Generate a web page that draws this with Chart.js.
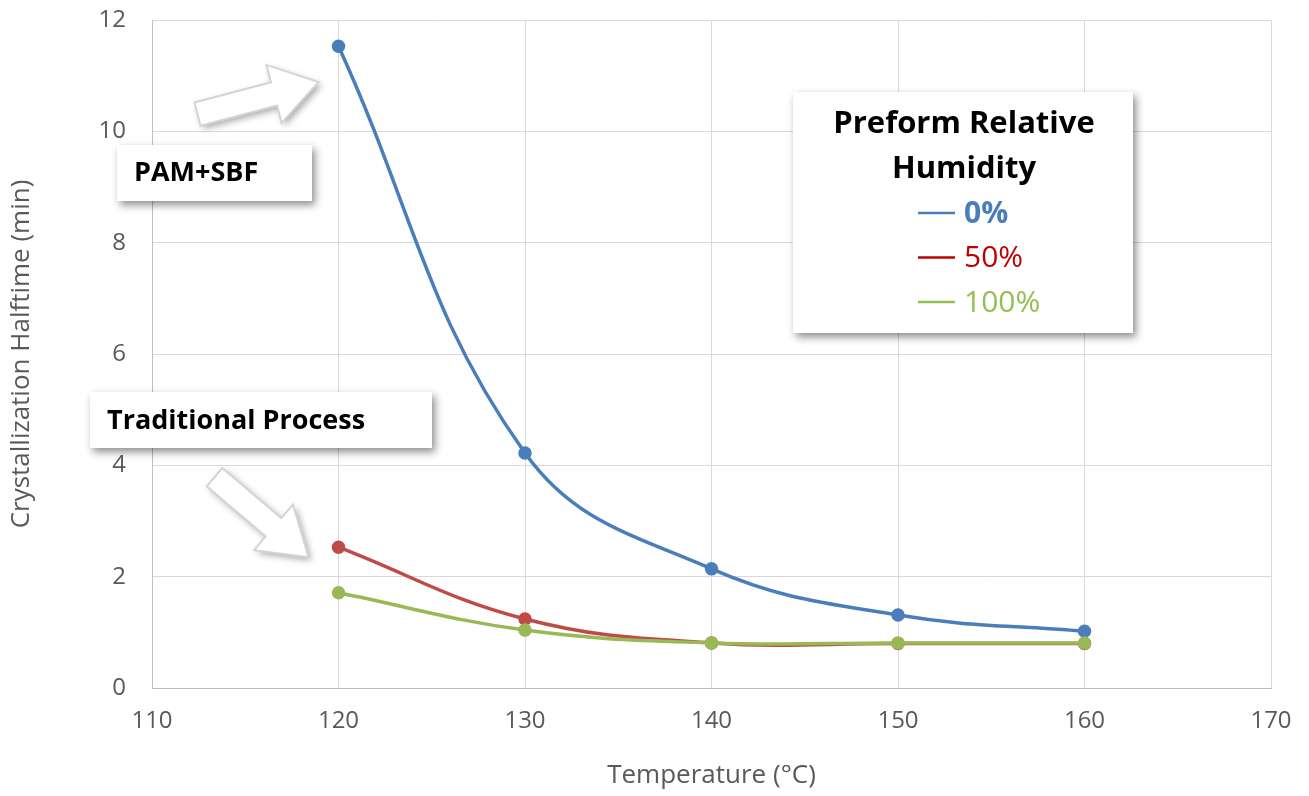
<!DOCTYPE html>
<html>
<head>
<meta charset="utf-8">
<script src="https://cdn.jsdelivr.net/npm/chart.js@4/dist/chart.umd.min.js"></script>
<style>
  html, body { margin: 0; padding: 0; background: #fff; }
  #wrap { width: 1309px; height: 796px; }
</style>
</head>
<body>
<div id="wrap"><canvas id="halftimeChart" width="1309" height="796"></canvas></div>
<script>
const temperatures = [120, 130, 140, 150, 160]
const halftimeRH0 = [11.53, 4.22, 2.14, 1.31, 1.02]
const halftimeRH50 = [2.53, 1.24, 0.81, 0.80, 0.80]
const halftimeRH100 = [1.71, 1.04, 0.81, 0.81, 0.81]
const humidityLabels = ["0%", "50%", "100%"]
const xTicks = [110, 120, 130, 140, 150, 160, 170]
const yTicks = [0, 2, 4, 6, 8, 10, 12]

const lineColors = ["#4a7ebb", "#be4b48", "#98b954"]
const legendTextColors = ["#4a7ebb", "#c00000", "#92c050"]
const font = "'Open Sans', 'DejaVu Sans', sans-serif"

const toPoints = (values) => temperatures.map((t, i) => ({x: t, y: values[i]}))

const makeDataset = (label, values, idx) => {
    return {
        label: label,
        data: toPoints(values),
        borderColor: lineColors[idx],
        backgroundColor: lineColors[idx],
        borderWidth: 3.5,
        pointRadius: 5,
        pointHoverRadius: 5,
        showLine: true,
        tension: 0.4,
        order: 2 - idx
    }
}

// white box with a soft drop shadow
function shadowBox(ctx, x, y, w, h) {
    ctx.save()
    ctx.shadowColor = "rgba(0,0,0,0.45)"
    ctx.shadowBlur = 8
    ctx.shadowOffsetX = 3
    ctx.shadowOffsetY = 4
    ctx.fillStyle = "#fff"
    ctx.fillRect(x, y, w, h)
    ctx.restore()
}

// outlined block arrow from (x0,y0) to tip (x1,y1)
function blockArrow(ctx, x0, y0, x1, y1, shaftW, headW, headLen) {
    const ang = Math.atan2(y1 - y0, x1 - x0)
    const len = Math.hypot(x1 - x0, y1 - y0)
    ctx.save()
    ctx.translate(x0, y0)
    ctx.rotate(ang)
    ctx.beginPath()
    ctx.moveTo(0, -shaftW / 2)
    ctx.lineTo(len - headLen, -shaftW / 2)
    ctx.lineTo(len - headLen, -headW / 2)
    ctx.lineTo(len, 0)
    ctx.lineTo(len - headLen, headW / 2)
    ctx.lineTo(len - headLen, shaftW / 2)
    ctx.lineTo(0, shaftW / 2)
    ctx.closePath()
    ctx.shadowColor = "rgba(0,0,0,0.35)"
    ctx.shadowBlur = 7
    ctx.shadowOffsetX = 3
    ctx.shadowOffsetY = 3
    ctx.fillStyle = "#fff"
    ctx.fill()
    ctx.shadowColor = "transparent"
    ctx.lineWidth = 2
    ctx.strokeStyle = "#d4d4d4"
    ctx.stroke()
    ctx.restore()
}

const annotations = {
    id: "annotations",
    afterDraw(chart) {
        const ctx = chart.ctx
        const xs = chart.scales.x
        const ys = chart.scales.y

        // arrow toward the first 0% point
        const p0x = xs.getPixelForValue(temperatures[0])
        const p0y = ys.getPixelForValue(halftimeRH0[0])
        blockArrow(ctx, p0x - 141, p0y + 68, p0x - 20, p0y + 36, 24, 60, 46)

        // arrow toward the first 50% point
        const p1y = ys.getPixelForValue(halftimeRH50[0])
        blockArrow(ctx, p0x - 124, p1y - 70, p0x - 30, p1y + 10, 24, 60, 46)

        ctx.save()
        shadowBox(ctx, 117, 145, 195, 56)
        shadowBox(ctx, 90, 392, 342, 56)
        ctx.fillStyle = "#000"
        ctx.font = "bold 27px " + font
        ctx.textBaseline = "middle"
        ctx.fillText("PAM+SBF", 134, 173)
        ctx.fillText("Traditional Process", 107, 421)

        // legend panel
        shadowBox(ctx, 793, 92, 340, 241)
        ctx.textAlign = "center"
        ctx.font = "bold 31px " + font
        ctx.fillText("Preform Relative", 964, 124)
        ctx.fillText("Humidity", 964, 169)
        ctx.textAlign = "left"
        humidityLabels.forEach((label, i) => {
            const y = 213 + i * 44.5
            ctx.strokeStyle = legendTextColors[i]
            ctx.lineWidth = 2.5
            ctx.beginPath()
            ctx.moveTo(918, y)
            ctx.lineTo(955, y)
            ctx.stroke()
            ctx.fillStyle = legendTextColors[i]
            ctx.font = (i === 0 ? "bold " : "") + "30px " + font
            ctx.fillText(label, 964, y + 1)
        })
        ctx.restore()
    }
}

const chart = new Chart(document.getElementById("halftimeChart").getContext("2d"), {
    type: "scatter",
    data: {
        datasets: [
            makeDataset(humidityLabels[0], halftimeRH0, 0),
            makeDataset(humidityLabels[1], halftimeRH50, 1),
            makeDataset(humidityLabels[2], halftimeRH100, 2)
        ]
    },
    options: {
        responsive: false,
        animation: false,
        layout: {
            padding: {left: 0, right: 38, top: 0, bottom: 0}
        },
        plugins: {
            legend: {display: false},
            tooltip: {enabled: false}
        },
        scales: {
            x: {
                type: "linear",
                min: xTicks[0],
                max: xTicks[xTicks.length - 1],
                afterBuildTicks: (scale) => {
                    scale.ticks = xTicks.map(v => ({value: v}))
                },
                afterFit: (scale) => {
                    scale.height = 108
                    scale.paddingLeft = 0
                    scale.paddingRight = 0
                },
                grid: {color: "#d9d9d9", lineWidth: 1, drawTicks: false},
                border: {color: "#bfbfbf"},
                ticks: {
                    color: "#595959",
                    font: {family: font, size: 24},
                    padding: 19
                },
                title: {
                    display: true,
                    text: "Temperature (°C)",
                    color: "#595959",
                    font: {family: font, size: 26},
                    padding: {top: 0, bottom: 5}
                }
            },
            y: {
                min: yTicks[0],
                max: yTicks[yTicks.length - 1],
                afterBuildTicks: (scale) => {
                    scale.ticks = yTicks.map(v => ({value: v}))
                },
                afterFit: (scale) => {
                    scale.width = 152
                    scale.paddingTop = 20
                    scale.paddingBottom = 0
                },
                grid: {color: "#d9d9d9", lineWidth: 1, drawTicks: false},
                border: {color: "#bfbfbf"},
                ticks: {
                    color: "#595959",
                    font: {family: font, size: 24},
                    padding: 26
                },
                title: {
                    display: true,
                    text: "Crystallization Halftime (min)",
                    color: "#595959",
                    font: {family: font, size: 26},
                    padding: {top: 6, bottom: 0}
                }
            }
        }
    },
    plugins: [annotations]
});
</script>
</body>
</html>
